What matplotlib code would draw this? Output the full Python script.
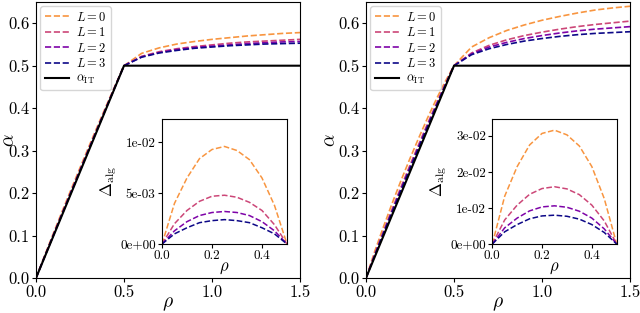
"""Two-panel alpha(rho) plot with Delta_alg insets."""

import matplotlib as mpl
import numpy as np

mpl.use("Agg")
import matplotlib.pyplot as plt
from matplotlib.ticker import FormatStrFormatter

plt.rcParams["font.family"] = "serif"
plt.rcParams["font.serif"] = ["cmr10"]
plt.rcParams["mathtext.fontset"] = "cm"
plt.rcParams["axes.formatter.use_mathtext"] = True

# --- data ------------------------------------------------------------------
levels = [0, 1, 2, 3]

rho_low = [0.0, 0.05, 0.1, 0.15, 0.2, 0.25, 0.3, 0.35, 0.4, 0.45, 0.5]
rho_high = [0.5, 0.6, 0.7, 0.8, 0.9, 1.0, 1.1, 1.2, 1.3, 1.4, 1.5]

rho_it = [0.0, 0.5, 1.5]
alpha_it = [0.0, 0.5, 0.5]

# gap alpha_L - alpha_IT below rho = 0.5 (inset curves)
delta_left = [
    [0, 0.0040, 0.0065, 0.0084, 0.0093, 0.0096, 0.0092, 0.0083, 0.0065, 0.0038, 0],
    [0, 0.0020, 0.0033, 0.0042, 0.0047, 0.0048, 0.0046, 0.0041, 0.0033, 0.0019, 0],
    [0, 0.0013, 0.0022, 0.0028, 0.0031, 0.0032, 0.0031, 0.0028, 0.0022, 0.0013, 0],
    [0, 0.0010, 0.0016, 0.0021, 0.0023, 0.0024, 0.0023, 0.0021, 0.0016, 0.0010, 0],
]
delta_right = [
    [0, 0.0133, 0.0215, 0.0275, 0.0307, 0.0316, 0.0303, 0.0272, 0.0215, 0.0126, 0],
    [0, 0.0067, 0.0108, 0.0138, 0.0154, 0.0159, 0.0153, 0.0137, 0.0108, 0.0064, 0],
    [0, 0.0045, 0.0072, 0.0092, 0.0103, 0.0106, 0.0102, 0.0091, 0.0072, 0.0042, 0],
    [0, 0.0034, 0.0054, 0.0070, 0.0078, 0.0080, 0.0077, 0.0069, 0.0054, 0.0032, 0],
]

# alpha_L above rho = 0.5
alpha_high_left = [
    [0.5, 0.529, 0.542, 0.551, 0.557, 0.562, 0.566, 0.570, 0.573, 0.576, 0.578],
    [0.5, 0.522, 0.533, 0.540, 0.545, 0.549, 0.553, 0.556, 0.558, 0.560, 0.562],
    [0.5, 0.521, 0.531, 0.538, 0.543, 0.546, 0.549, 0.552, 0.554, 0.556, 0.557],
    [0.5, 0.520, 0.530, 0.536, 0.541, 0.544, 0.547, 0.549, 0.551, 0.552, 0.553],
]
alpha_high_right = [
    [0.5, 0.544, 0.566, 0.583, 0.596, 0.607, 0.616, 0.624, 0.631, 0.636, 0.640],
    [0.5, 0.530, 0.548, 0.561, 0.571, 0.579, 0.586, 0.592, 0.597, 0.601, 0.605],
    [0.5, 0.528, 0.544, 0.555, 0.564, 0.571, 0.577, 0.582, 0.586, 0.589, 0.592],
    [0.5, 0.526, 0.540, 0.550, 0.558, 0.564, 0.569, 0.573, 0.576, 0.578, 0.580],
]

inset_ticks_left = [0.0, 0.005, 0.01]
inset_ticks_right = [0.0, 0.01, 0.02, 0.03]

colors = [plt.cm.plasma(v) for v in (0.75, 0.5, 0.25, 0.0)]


def draw_panel(fig, rect, inset_rect, deltas, highs, inset_ticks, inset_ymax, ylab_x):
    ax = fig.add_axes(rect)
    r_low = np.asarray(rho_low)
    for lvl, d, hi, c in zip(levels, deltas, highs, colors):
        rho = np.concatenate([r_low, rho_high[1:]])
        alpha = np.concatenate([r_low + np.asarray(d), hi[1:]])
        ax.plot(rho, alpha, "--", color=c, lw=1.2, label=rf"$L={lvl}$")
    ax.plot(rho_it, alpha_it, color="black", lw=1.5, label=r"$\alpha_{\rm IT}$")
    ax.set_xlim(0, 1.5)
    ax.set_ylim(0, 0.65)
    ax.set_xticks([0.0, 0.5, 1.0, 1.5])
    ax.set_yticks([0.0, 0.1, 0.2, 0.3, 0.4, 0.5, 0.6])
    ax.xaxis.set_major_formatter(FormatStrFormatter("%.1f"))
    ax.yaxis.set_major_formatter(FormatStrFormatter("%.1f"))
    ax.tick_params(labelsize=12, length=3, pad=1.5)
    ax.set_xlabel(r"$\rho$", fontsize=14, labelpad=-3)
    ax.set_ylabel(r"$\alpha$", fontsize=14)
    ax.yaxis.set_label_coords(ylab_x, 0.5)
    ax.legend(loc="upper left", fontsize=9, handlelength=1.9, labelspacing=0.2,
              borderaxespad=0.35, handletextpad=0.6, borderpad=0.35)

    ins = fig.add_axes(inset_rect)
    for d, c in zip(deltas, colors):
        ins.plot(rho_low, d, "--", color=c, lw=1.1)
    ins.set_xlim(0, 0.5)
    ins.set_ylim(0, inset_ymax)
    ins.set_xticks([0.0, 0.2, 0.4])
    ins.set_yticks(inset_ticks)
    ins.xaxis.set_major_formatter(FormatStrFormatter("%.1f"))
    ins.yaxis.set_major_formatter(FormatStrFormatter("%.0e"))
    ins.tick_params(labelsize=9.5, length=3, pad=1.5)
    ins.set_xlabel(r"$\rho$", fontsize=12, labelpad=-1)
    ins.set_ylabel(r"$\Delta_{\rm alg}$", fontsize=12, labelpad=1)


fig = plt.figure(figsize=(6.4, 3.13), dpi=100)
draw_panel(fig, [0.05625, 0.1118, 0.4125, 0.8818], [0.2531, 0.2204, 0.1953, 0.3994],
           delta_left, alpha_high_left, inset_ticks_left, 0.0123, -0.068)
draw_panel(fig, [0.571875, 0.1118, 0.4125, 0.8818], [0.7692, 0.2204, 0.1944, 0.3994],
           delta_right, alpha_high_right, inset_ticks_right, 0.0347, -0.1)
fig.savefig("out.png", dpi=100)
plt.close(fig)
